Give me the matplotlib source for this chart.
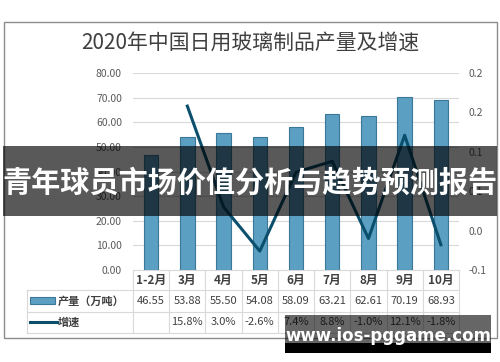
import numpy as np
import matplotlib
matplotlib.use('Agg')
import matplotlib.pyplot as plt
from matplotlib.patches import Rectangle
from matplotlib.lines import Line2D
from matplotlib.transforms import blended_transform_factory

plt.rcParams['font.family'] = ['Noto Sans CJK SC', 'DejaVu Sans']

# data
months = ['1-2月', '3月', '4月', '5月', '6月', '7月', '8月', '9月', '10月']
output = [46.55, 53.88, 55.50, 54.08, 58.09, 63.21, 62.61, 70.19, 68.93]  # 产量（万吨）
growth = [np.nan, 15.8, 3.0, -2.6, 7.4, 8.8, -1.0, 12.1, -1.8]  # 增速 %
left_ticks = [0, 10, 20, 30, 40, 50, 60, 70, 80]
right_ticks = [-0.05, 0.0, 0.05, 0.10, 0.15, 0.20]
right_labels = ['-0.1', '0.0', '0.1', '0.1', '0.2', '0.2']  # excel style rounding

title = '2020年中国日用玻璃制品产量及增速'
banner = '青年球员市场价值分析与趋势预测报告'
watermark = 'www.ios-pggame.com'

W, H = 500, 362
txt_col = '#404040'
grid_col = '#d9d9d9'
bar_col = '#5b9fc2'
line_col = '#0b4f6c'


def fx(x):
    return x / W


def fy(y):
    return 1 - y / H


fig = plt.figure(figsize=(W / 100, H / 100), dpi=100)

# outer frame
fig.patches.append(Rectangle((fx(4), fy(338)), fx(493), (338 - 22) / H,
                             transform=fig.transFigure, fill=False,
                             edgecolor='#8c8c8c', lw=1.0))
fig.text(0.5, fy(43), title, ha='center', va='center', fontsize=15, color=txt_col)

ax = fig.add_axes([fx(133), fy(270), (459 - 133) / W, (270 - 73) / H])
x = np.arange(len(months))
ax.bar(x, output, width=0.4, color=bar_col, edgecolor='#3b7897', lw=0.8, zorder=3)
ax.set_xlim(-0.5, len(months) - 0.5)
ax.set_ylim(0, 80)
ax.set_yticks(left_ticks)
ax.set_yticklabels([f'{v:.2f}' for v in left_ticks])
ax.set_xticks([])
ax.yaxis.grid(True, color=grid_col, lw=0.8, zorder=0)
for s in ['left', 'right', 'top']:
    ax.spines[s].set_visible(False)
ax.spines['bottom'].set_color(grid_col)
ax.tick_params(axis='y', length=0, pad=8, labelsize=7.5, labelcolor='#595959')

ax2 = ax.twinx()
ax2.plot(x, np.array(growth) / 100, color=line_col, lw=2.2, zorder=4)
ax2.set_ylim(-0.05, 0.20)
ax2.set_yticks(right_ticks)
ax2.set_yticklabels(right_labels)
for s in ['left', 'right', 'top', 'bottom']:
    ax2.spines[s].set_visible(False)
ax2.tick_params(axis='y', length=0, pad=7, labelsize=7.5, labelcolor='#595959')

# data table under the plot
tr = blended_transform_factory(ax.transData, fig.transFigure)
edges = np.arange(len(months) + 1) - 0.5
row_y = [270, 290, 312, 333]
lkw = dict(color=grid_col, lw=0.8, clip_on=False)
for e in edges:
    fig.add_artist(Line2D([e, e], [fy(270), fy(333)], transform=tr, **lkw))
for yy in row_y[1:]:
    fig.add_artist(Line2D([fx(27), fx(459)], [fy(yy), fy(yy)], transform=fig.transFigure, **lkw))
fig.add_artist(Line2D([fx(27), fx(27)], [fy(290), fy(333)], transform=fig.transFigure, **lkw))

for i, m in enumerate(months):
    fig.text(i, fy(280), m, transform=tr, ha='center', va='center',
             fontsize=8.5, fontweight='bold', color=txt_col)
    fig.text(i, fy(301), f'{output[i]:.2f}', transform=tr, ha='center', va='center',
             fontsize=8, color=txt_col)
    if not np.isnan(growth[i]):
        fig.text(i, fy(322), f'{growth[i]:.1f}%', transform=tr, ha='center', va='center',
                 fontsize=8, color=txt_col)

# legend keys in the table
fig.patches.append(Rectangle((fx(30), fy(304)), 25 / W, 7 / H, transform=fig.transFigure,
                             facecolor=bar_col, edgecolor='#3b7897', lw=0.8))
fig.text(fx(58), fy(301), '产量（万吨）', ha='left', va='center', fontsize=8,
         fontweight='bold', color=txt_col)
fig.add_artist(Line2D([fx(30), fx(57)], [fy(322), fy(322)], transform=fig.transFigure,
                      color=line_col, lw=2.2))
fig.text(fx(58), fy(322), '增速', ha='left', va='center', fontsize=8,
         fontweight='bold', color=txt_col)

# overlay banner
fig.patches.append(Rectangle((fx(3), fy(216)), (497 - 3) / W, 70 / H, transform=fig.transFigure,
                             facecolor='black', alpha=0.65, zorder=10))
fig.text(0.5, fy(183), banner, ha='center', va='center', fontsize=21,
         fontweight='bold', color='white', zorder=11)

# watermark box
fig.patches.append(Rectangle((fx(285), fy(343)), 206 / W, 28 / H, transform=fig.transFigure,
                             facecolor='black', alpha=0.6, zorder=10))
fig.patches.append(Rectangle((fx(285), fy(353)), 206 / W, 10 / H, transform=fig.transFigure,
                             facecolor='black', zorder=10))
fig.text(fx(388), fy(336), watermark, ha='center', va='center', fontsize=12,
         fontweight='bold', color='white', family='DejaVu Sans', zorder=11)

fig.savefig('out.png', dpi=100)
